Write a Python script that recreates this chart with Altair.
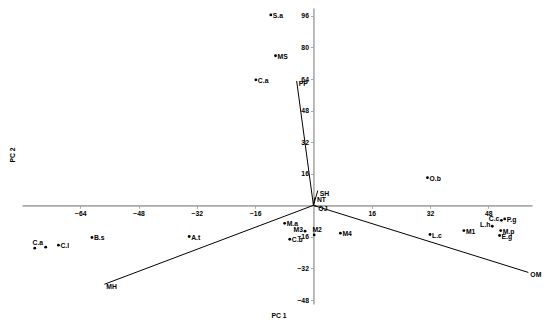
import altair as alt
import pandas as pd

# ---- data ----
obj_names = ["S.a", "MS", "C.a", "O.b", "C.a", "", "C.l", "B.s", "A.t", "M.a", "C.b",
             "M3", "M2", "M4", "L.c", "M1", "L.h", "C.c", "P.g", "M.p", "E.g"]
obj_pc1 = [-11.7, -10.4, -15.8, 31.3, -76.5, -73.5, -70.0, -60.8, -34.1, -7.9, -6.5,
           -2.3, 0.2, 7.4, 32.0, 41.3, 49.1, 51.6, 52.5, 51.4, 51.1]
obj_pc2 = [96.5, 75.8, 63.6, 14.0, -21.7, -21.2, -20.2, -16.3, -15.8, -9.1, -17.2,
           -13.1, -15.0, -14.1, -14.8, -12.8, -10.6, -7.6, -6.9, -12.8, -15.3]

var_names = ["PP", "SH", "NT", "OJ", "MH", "OM"]
var_pc1 = [-4.6, 1.2, 0.4, 0.8, -57.4, 59.0]
var_pc2 = [63.0, 7.5, 4.0, -0.5, -40.0, -34.0]

x_ticks = [-64, -48, -32, -16, 16, 32, 48]
y_ticks = [-48, -32, -16, 16, 32, 48, 64, 80, 96]
x_domain = [-80, 60]
y_domain = [-50, 100]

# ---- layout / style ----
W, H = 510, 296
FONT = "Liberation Sans"
FS = 6.8
AXIS_GRAY = "#aaaaaa"

objs = pd.DataFrame({"name": obj_names, "pc1": obj_pc1, "pc2": obj_pc2})
objs["idx"] = range(len(objs))
vars_df = pd.DataFrame({"name": var_names, "pc1": var_pc1, "pc2": var_pc2,
                        "o1": [0.0] * len(var_names), "o2": [0.0] * len(var_names)})

x_off = -W * (0 - x_domain[0]) / (x_domain[1] - x_domain[0])
y_off = -H * (0 - y_domain[0]) / (y_domain[1] - y_domain[0])

xscale = alt.Scale(domain=x_domain, nice=False, zero=False)
yscale = alt.Scale(domain=y_domain, nice=False, zero=False)

axis_common = dict(title=None, grid=False, domainColor=AXIS_GRAY, domainWidth=1.6,
                   tickColor=AXIS_GRAY, tickSize=3, tickWidth=1, labelFont=FONT,
                   labelFontSize=FS, labelFontWeight="bold", labelColor="black",
                   labelPadding=2, labelOverlap=False, labelFlush=False)

xax = alt.Axis(values=x_ticks, orient="bottom", offset=y_off, **axis_common)
yax = alt.Axis(values=y_ticks, orient="left", offset=x_off, **axis_common)


def X(field="pc1:Q"):
    return alt.X(field, scale=xscale, axis=xax)


def Y(field="pc2:Q"):
    return alt.Y(field, scale=yscale, axis=yax)


base_obj = alt.Chart(objs)
txt = dict(font=FONT, fontSize=FS, fontWeight="bold", color="black")

points = base_obj.mark_point(filled=True, color="black", size=8, opacity=1).encode(
    x=X(), y=Y())

left_labels = ["M3", "L.h", "C.c"]
above_labels = ["M2"]
named = "isValid(datum.name) && datum.name != ''"

lab_right = base_obj.transform_filter(named).transform_filter(
    (~alt.FieldOneOfPredicate(field="name", oneOf=left_labels + above_labels)) & (alt.datum.idx != 4)
).mark_text(align="left", baseline="middle", dx=2, dy=1, **txt).encode(
    x=X(), y=Y(), text="name:N")

lab_left = base_obj.transform_filter(
    alt.FieldOneOfPredicate(field="name", oneOf=left_labels)
).mark_text(align="right", baseline="middle", dx=-2, dy=-1, **txt).encode(
    x=X(), y=Y(), text="name:N")

lab_above = base_obj.transform_filter(
    alt.FieldOneOfPredicate(field="name", oneOf=above_labels) | (alt.datum.idx == 4)
).mark_text(align="center", baseline="bottom", dx=3, dy=-2, **txt).encode(
    x=X(), y=Y(), text="name:N")

vecs = alt.Chart(vars_df).mark_rule(color="black", strokeWidth=1).encode(
    x=X("o1:Q"), y=Y("o2:Q"), x2="pc1:Q", y2="pc2:Q")

vec_labels = alt.Chart(vars_df).mark_text(align="left", baseline="middle", dx=2, dy=3,
                                          **txt).encode(
    x=X(), y=Y(), text="name:N")

t1 = alt.Chart(pd.DataFrame({"t": ["PC 1"]})).mark_text(
    align="center", baseline="middle", **txt).encode(
    text="t:N", x=alt.value(257), y=alt.value(308))
t2 = alt.Chart(pd.DataFrame({"t": ["PC 2"]})).mark_text(
    align="center", baseline="middle", angle=270, **txt).encode(
    text="t:N", x=alt.value(-9), y=alt.value(147))

chart = alt.layer(points, vecs, lab_right, lab_left, lab_above, vec_labels, t1, t2).properties(
    width=W, height=H,
    autosize=alt.AutoSizeParams(type="none"),
    padding={"left": 14, "top": 0, "right": 10, "bottom": 16},
    background="white",
).configure_view(stroke=None)

chart.save("out.html", embed_options={"renderer": "svg", "actions": False})
